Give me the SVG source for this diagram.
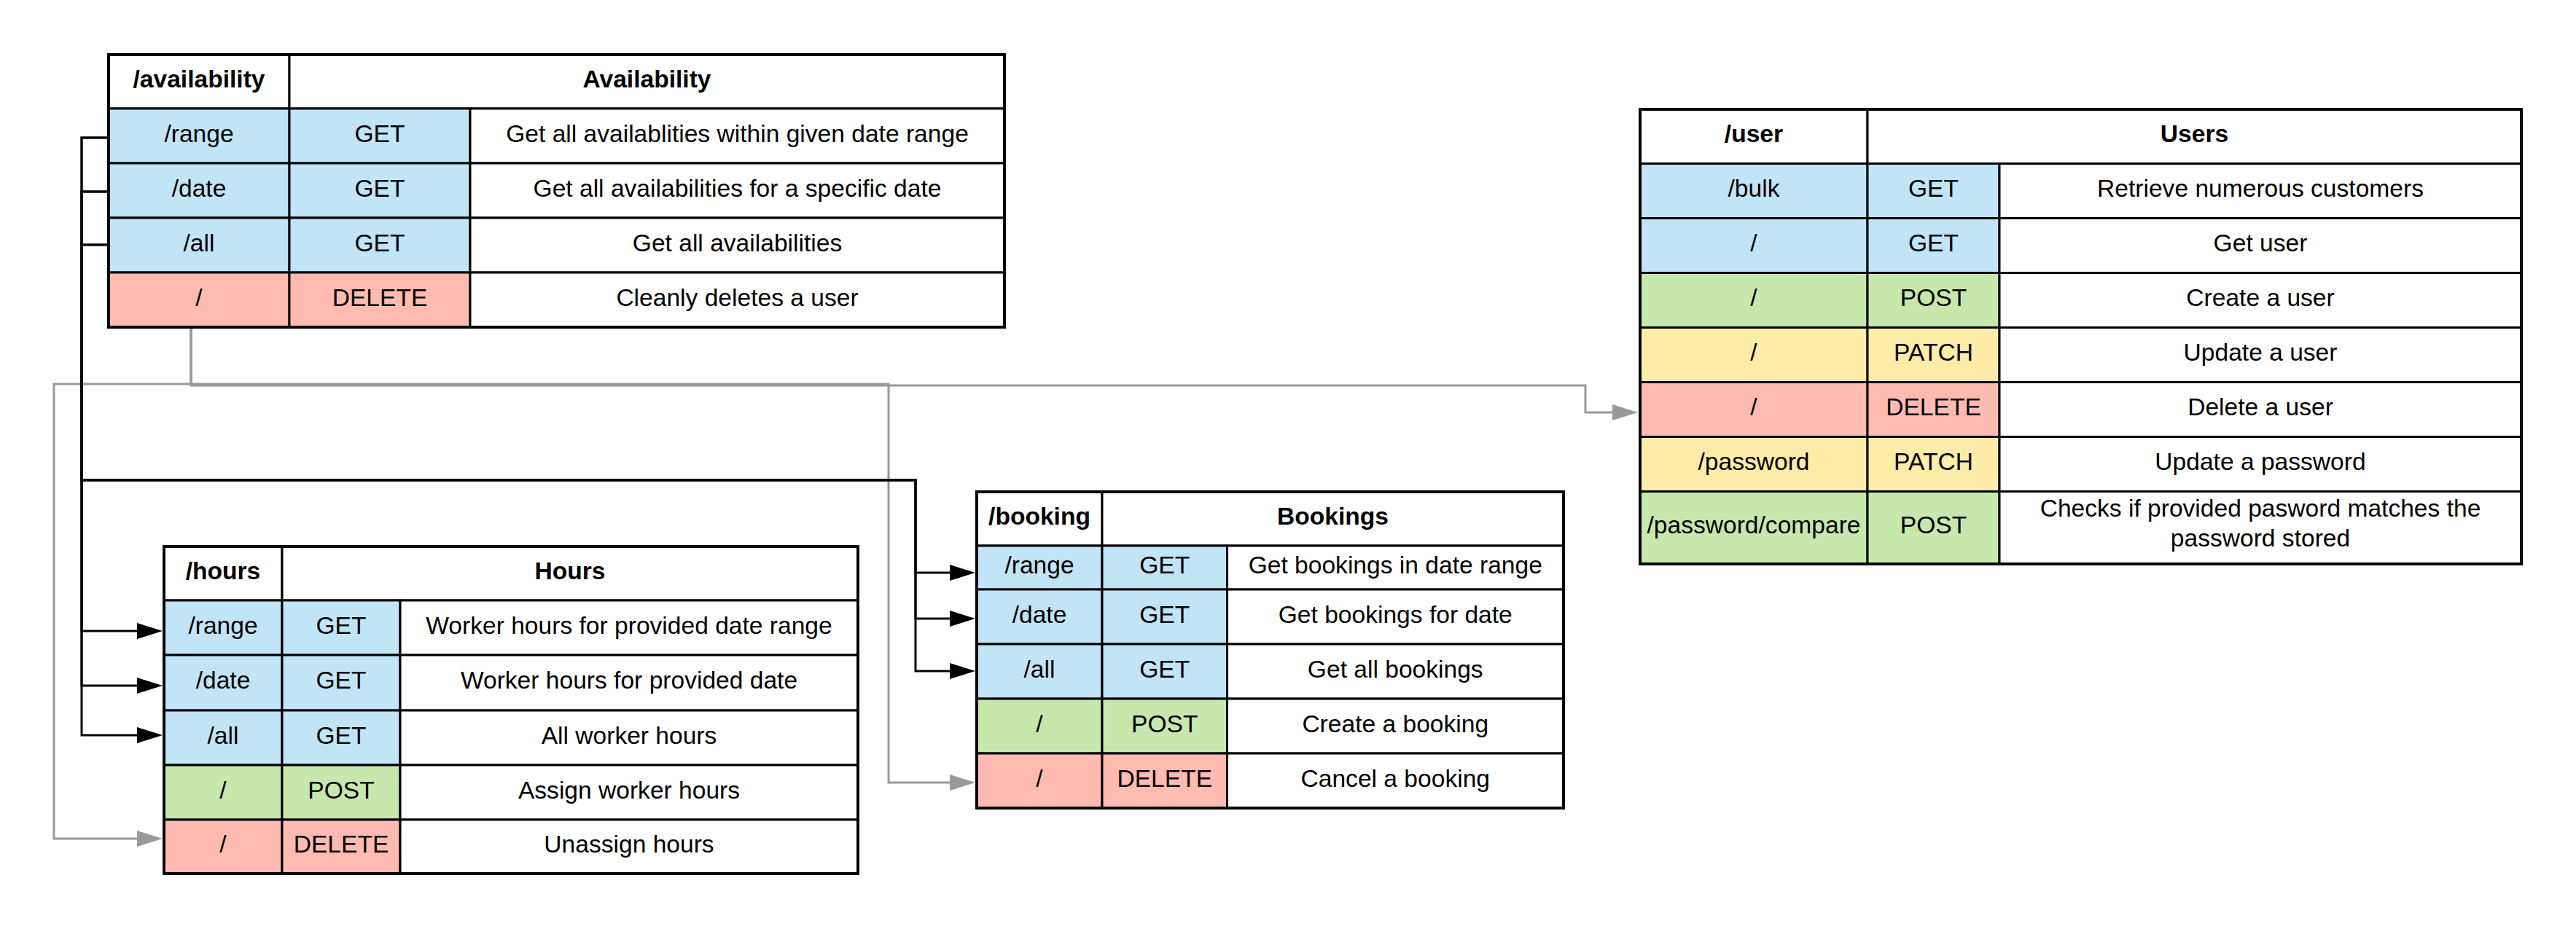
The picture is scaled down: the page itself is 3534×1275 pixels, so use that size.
<svg xmlns="http://www.w3.org/2000/svg" width="3534" height="1275" viewBox="0 0 3534 1275">
<style>
  text { font-family: "Liberation Sans", Arial, sans-serif; font-size: 33.6px; fill: #000; text-anchor: middle; }
  text.h { font-weight: bold; }
  rect.c { stroke: #000; stroke-width: 3; }
  rect.o { fill: none; stroke: #000; stroke-width: 4; }
  .w { fill: #FFFFFF; }
  .b { fill: #C1E4F7; }
  .r { fill: #FFBBB1; }
  .g { fill: #C7E8AC; }
  .y { fill: #FFECA9; }
  path.k { fill: none; stroke: #000; stroke-width: 3; }
  path.s { fill: none; stroke: #999999; stroke-width: 3; }
</style>
<defs>
  <marker id="ak" markerUnits="userSpaceOnUse" markerWidth="36" markerHeight="24" refX="0" refY="11" orient="auto">
    <path d="M0,0 L35,11 L0,22 z" fill="#000"/>
  </marker>
  <marker id="as" markerUnits="userSpaceOnUse" markerWidth="36" markerHeight="24" refX="0" refY="11" orient="auto">
    <path d="M0,0 L35,11 L0,22 z" fill="#999999"/>
  </marker>
</defs>
<rect x="0" y="0" width="3534" height="1275" fill="#FFFFFF"/>

<g id="connectors">
  <path class="s" d="M262,449 V527 H74 V1151 H188" marker-end="url(#as)"/>
  <path class="s" d="M262,449 V527 H1219 V1074 H1303" marker-end="url(#as)"/>
  <path class="s" d="M262,449 V529 H2175 V566 H2212" marker-end="url(#as)"/>
  <path class="k" d="M149,189 H112 V866 H188" marker-end="url(#ak)"/>
  <path class="k" d="M149,263 H112 V941 H188" marker-end="url(#ak)"/>
  <path class="k" d="M149,336 H112 V1009 H188" marker-end="url(#ak)"/>
  <path class="k" d="M149,189 H112 V659 H1256 V786 H1303" marker-end="url(#ak)"/>
  <path class="k" d="M149,263 H112 V659 H1256 V849 H1303" marker-end="url(#ak)"/>
  <path class="k" d="M149,336 H112 V659 H1256 V921 H1303" marker-end="url(#ak)"/>
</g>

<g id="availability">
  <rect class="c w" x="149" y="75" width="248" height="74"/>
  <rect class="c w" x="397" y="75" width="981" height="74"/>
  <rect class="c b" x="149" y="149" width="248" height="75"/>
  <rect class="c b" x="397" y="149" width="248" height="75"/>
  <rect class="c w" x="645" y="149" width="733" height="75"/>
  <rect class="c b" x="149" y="224" width="248" height="75"/>
  <rect class="c b" x="397" y="224" width="248" height="75"/>
  <rect class="c w" x="645" y="224" width="733" height="75"/>
  <rect class="c b" x="149" y="299" width="248" height="75"/>
  <rect class="c b" x="397" y="299" width="248" height="75"/>
  <rect class="c w" x="645" y="299" width="733" height="75"/>
  <rect class="c r" x="149" y="374" width="248" height="75"/>
  <rect class="c r" x="397" y="374" width="248" height="75"/>
  <rect class="c w" x="645" y="374" width="733" height="75"/>
  <rect class="o" x="149" y="75" width="1229" height="374"/>
  <text class="h" x="273" y="120">/availability</text>
  <text class="h" x="887.5" y="120">Availability</text>
  <text x="273" y="194.5">/range</text><text x="521" y="194.5">GET</text><text x="1011.5" y="194.5">Get all availablities within given date range</text>
  <text x="273" y="269.5">/date</text><text x="521" y="269.5">GET</text><text x="1011.5" y="269.5">Get all availabilities for a specific date</text>
  <text x="273" y="344.5">/all</text><text x="521" y="344.5">GET</text><text x="1011.5" y="344.5">Get all availabilities</text>
  <text x="273" y="419.5">/</text><text x="521" y="419.5">DELETE</text><text x="1011.5" y="419.5">Cleanly deletes a user</text>
</g>

<g id="hours">
  <rect class="c w" x="225" y="750" width="162" height="74"/>
  <rect class="c w" x="387" y="750" width="790" height="74"/>
  <rect class="c b" x="225" y="824" width="162" height="75"/>
  <rect class="c b" x="387" y="824" width="162" height="75"/>
  <rect class="c w" x="549" y="824" width="628" height="75"/>
  <rect class="c b" x="225" y="899" width="162" height="76"/>
  <rect class="c b" x="387" y="899" width="162" height="76"/>
  <rect class="c w" x="549" y="899" width="628" height="76"/>
  <rect class="c b" x="225" y="975" width="162" height="75"/>
  <rect class="c b" x="387" y="975" width="162" height="75"/>
  <rect class="c w" x="549" y="975" width="628" height="75"/>
  <rect class="c g" x="225" y="1050" width="162" height="75"/>
  <rect class="c g" x="387" y="1050" width="162" height="75"/>
  <rect class="c w" x="549" y="1050" width="628" height="75"/>
  <rect class="c r" x="225" y="1125" width="162" height="74"/>
  <rect class="c r" x="387" y="1125" width="162" height="74"/>
  <rect class="c w" x="549" y="1125" width="628" height="74"/>
  <rect class="o" x="225" y="750" width="952" height="449"/>
  <text class="h" x="306" y="795">/hours</text>
  <text class="h" x="782" y="795">Hours</text>
  <text x="306" y="869.5">/range</text><text x="468" y="869.5">GET</text><text x="863" y="869.5">Worker hours for provided date range</text>
  <text x="306" y="945">/date</text><text x="468" y="945">GET</text><text x="863" y="945">Worker hours for provided date</text>
  <text x="306" y="1020.5">/all</text><text x="468" y="1020.5">GET</text><text x="863" y="1020.5">All worker hours</text>
  <text x="306" y="1095.5">/</text><text x="468" y="1095.5">POST</text><text x="863" y="1095.5">Assign worker hours</text>
  <text x="306" y="1170">/</text><text x="468" y="1170">DELETE</text><text x="863" y="1170">Unassign hours</text>
</g>

<g id="booking">
  <rect class="c w" x="1340" y="675" width="172" height="74"/>
  <rect class="c w" x="1512" y="675" width="633" height="74"/>
  <rect class="c b" x="1340" y="749" width="172" height="60"/>
  <rect class="c b" x="1512" y="749" width="171.5" height="60"/>
  <rect class="c w" x="1683.5" y="749" width="461.5" height="60"/>
  <rect class="c b" x="1340" y="809" width="172" height="75"/>
  <rect class="c b" x="1512" y="809" width="171.5" height="75"/>
  <rect class="c w" x="1683.5" y="809" width="461.5" height="75"/>
  <rect class="c b" x="1340" y="884" width="172" height="75"/>
  <rect class="c b" x="1512" y="884" width="171.5" height="75"/>
  <rect class="c w" x="1683.5" y="884" width="461.5" height="75"/>
  <rect class="c g" x="1340" y="959" width="172" height="75"/>
  <rect class="c g" x="1512" y="959" width="171.5" height="75"/>
  <rect class="c w" x="1683.5" y="959" width="461.5" height="75"/>
  <rect class="c r" x="1340" y="1034" width="172" height="75"/>
  <rect class="c r" x="1512" y="1034" width="171.5" height="75"/>
  <rect class="c w" x="1683.5" y="1034" width="461.5" height="75"/>
  <rect class="o" x="1340" y="675" width="805" height="434"/>
  <text class="h" x="1426" y="720">/booking</text>
  <text class="h" x="1828.5" y="720">Bookings</text>
  <text x="1426" y="787">/range</text><text x="1597.75" y="787">GET</text><text x="1914.25" y="787">Get bookings in date range</text>
  <text x="1426" y="854.5">/date</text><text x="1597.75" y="854.5">GET</text><text x="1914.25" y="854.5">Get bookings for date</text>
  <text x="1426" y="929.5">/all</text><text x="1597.75" y="929.5">GET</text><text x="1914.25" y="929.5">Get all bookings</text>
  <text x="1426" y="1004.5">/</text><text x="1597.75" y="1004.5">POST</text><text x="1914.25" y="1004.5">Create a booking</text>
  <text x="1426" y="1079.5">/</text><text x="1597.75" y="1079.5">DELETE</text><text x="1914.25" y="1079.5">Cancel a booking</text>
</g>

<g id="user">
  <rect class="c w" x="2250" y="150" width="312" height="74.5"/>
  <rect class="c w" x="2562" y="150" width="897" height="74.5"/>
  <rect class="c b" x="2250" y="224.5" width="312" height="75"/>
  <rect class="c b" x="2562" y="224.5" width="181" height="75"/>
  <rect class="c w" x="2743" y="224.5" width="716" height="75"/>
  <rect class="c b" x="2250" y="299.5" width="312" height="75"/>
  <rect class="c b" x="2562" y="299.5" width="181" height="75"/>
  <rect class="c w" x="2743" y="299.5" width="716" height="75"/>
  <rect class="c g" x="2250" y="374.5" width="312" height="75"/>
  <rect class="c g" x="2562" y="374.5" width="181" height="75"/>
  <rect class="c w" x="2743" y="374.5" width="716" height="75"/>
  <rect class="c y" x="2250" y="449.5" width="312" height="75"/>
  <rect class="c y" x="2562" y="449.5" width="181" height="75"/>
  <rect class="c w" x="2743" y="449.5" width="716" height="75"/>
  <rect class="c r" x="2250" y="524.5" width="312" height="75"/>
  <rect class="c r" x="2562" y="524.5" width="181" height="75"/>
  <rect class="c w" x="2743" y="524.5" width="716" height="75"/>
  <rect class="c y" x="2250" y="599.5" width="312" height="75"/>
  <rect class="c y" x="2562" y="599.5" width="181" height="75"/>
  <rect class="c w" x="2743" y="599.5" width="716" height="75"/>
  <rect class="c g" x="2250" y="674.5" width="312" height="99.5"/>
  <rect class="c g" x="2562" y="674.5" width="181" height="99.5"/>
  <rect class="c w" x="2743" y="674.5" width="716" height="99.5"/>
  <rect class="o" x="2250" y="150" width="1209" height="624"/>
  <text class="h" x="2406" y="195">/user</text>
  <text class="h" x="3010.5" y="195">Users</text>
  <text x="2406" y="270">/bulk</text><text x="2652.5" y="270">GET</text><text x="3101" y="270">Retrieve numerous customers</text>
  <text x="2406" y="345">/</text><text x="2652.5" y="345">GET</text><text x="3101" y="345">Get user</text>
  <text x="2406" y="420">/</text><text x="2652.5" y="420">POST</text><text x="3101" y="420">Create a user</text>
  <text x="2406" y="495">/</text><text x="2652.5" y="495">PATCH</text><text x="3101" y="495">Update a user</text>
  <text x="2406" y="570">/</text><text x="2652.5" y="570">DELETE</text><text x="3101" y="570">Delete a user</text>
  <text x="2406" y="645">/password</text><text x="2652.5" y="645">PATCH</text><text x="3101" y="645">Update a password</text>
  <text x="2406" y="732">/password/compare</text><text x="2652.5" y="732">POST</text>
  <text x="3101" y="709">Checks if provided pasword matches the</text>
  <text x="3101" y="750">password stored</text>
</g>
</svg>
